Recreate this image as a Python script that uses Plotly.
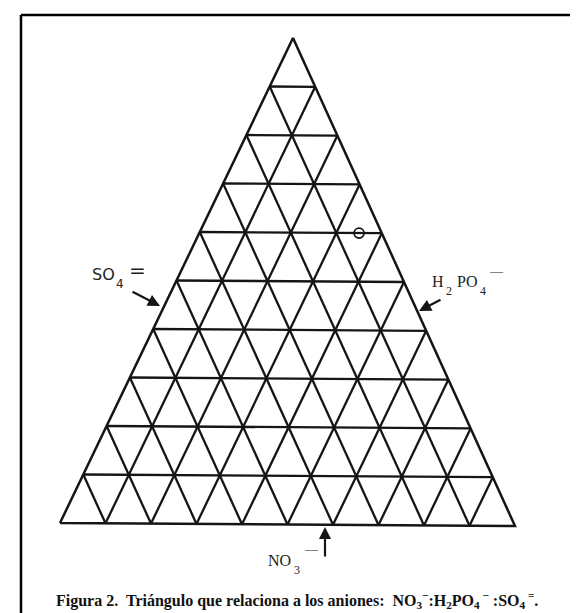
import plotly.graph_objects as go

# ternary grid levels (fractions) and the one plotted sample
grid_levels = [0.1, 0.2, 0.3, 0.4, 0.5, 0.6, 0.7, 0.8, 0.9]
sample_left = [0.05]   # weight towards lower-left corner
sample_apex = [0.60]   # weight towards top corner
sample_right = [0.35]  # weight towards lower-right corner

caption = ("<b>Figura 2.  Triángulo que relaciona a los aniones:  "
           "NO<sub>3</sub><sup>−</sup>:H<sub>2</sub>PO<sub>4</sub><sup> −</sup> :"
           "SO<sub>4</sub><sup> =</sup>.</b>")

# page geometry of the triangle corners (scan is slightly skewed)
LEFT = (52, 515)
APEX = (285, 30)
RIGHT = (507, 518)
INK = "#151515"


def to_xy(a, b, c):
    x = a * LEFT[0] + b * APEX[0] + c * RIGHT[0]
    y = a * LEFT[1] + b * APEX[1] + c * RIGHT[1]
    return x, y


def segments():
    xs, ys = [], []
    for v in grid_levels:
        for p, q in [((1 - v, v, 0), (0, v, 1 - v)),
                     ((v, 1 - v, 0), (v, 0, 1 - v)),
                     ((1 - v, 0, v), (0, 1 - v, v))]:
            x0, y0 = to_xy(*p)
            x1, y1 = to_xy(*q)
            xs += [x0, x1, None]
            ys += [y0, y1, None]
    return xs, ys


fig = go.Figure()

gx, gy = segments()
fig.add_trace(go.Scatter(x=gx, y=gy, mode="lines",
                         line=dict(color=INK, width=2.3), hoverinfo="skip"))

ox, oy = zip(*[to_xy(1, 0, 0), to_xy(0, 1, 0), to_xy(0, 0, 1), to_xy(1, 0, 0)])
fig.add_trace(go.Scatter(x=list(ox), y=list(oy), mode="lines",
                         line=dict(color=INK, width=2.5), hoverinfo="skip"))

px, py = zip(*[to_xy(a, b, c) for a, b, c in zip(sample_left, sample_apex, sample_right)])
fig.add_trace(go.Scatter(x=list(px), y=list(py), mode="markers",
                         marker=dict(symbol="circle-open", size=10, color=INK,
                                     line=dict(width=1.8))))


def label(x, y, text, size, family="Liberation Serif"):
    fig.add_annotation(x=x, y=y, text=text, showarrow=False, xref="x", yref="y",
                       xanchor="center", yanchor="middle",
                       font=dict(family=family, size=size, color="#222"))


def arrow(x0, y0, x1, y1):
    fig.add_annotation(x=x1, y=y1, ax=x0, ay=y0, xref="x", yref="y",
                       axref="x", ayref="y", text="", showarrow=True,
                       arrowhead=2, arrowsize=1.1, arrowwidth=2.2, arrowcolor=INK)


# SO4=
label(95, 266, "SO", 16, "DejaVu Sans")
label(112, 276, "4", 12, "DejaVu Sans")
label(129, 262, "=", 20, "DejaVu Sans")
arrow(123, 283, 152, 298)

# H2PO4-
label(430, 273, "H", 16)
label(441, 283, "2", 12)
label(459, 273, "PO", 16)
label(475, 283, "4", 12)
label(488, 262, "—", 13)
arrow(434, 291, 411, 303)

# NO3-
label(271, 552, "NO", 16)
label(289, 562, "3", 12)
label(303, 540, "—", 13)
arrow(317, 550, 317, 519)

fig.add_annotation(x=289, y=592, text=caption, showarrow=False, xref="x", yref="y",
                   xanchor="center", yanchor="middle",
                   font=dict(family="Liberation Serif", size=16, color="#111"))

# frame of the scanned page
for x0, y0, x1, y1 in [(13, 7, 13, 613), (13, 7, 577, 7), (577, 7, 577, 613)]:
    fig.add_shape(type="line", x0=x0, y0=y0, x1=x1, y1=y1, xref="x", yref="y",
                  line=dict(color="#000", width=2.5))

fig.update_xaxes(range=[0, 578], visible=False, fixedrange=True)
fig.update_yaxes(range=[613, 0], visible=False, fixedrange=True)
fig.update_layout(width=578, height=613, margin=dict(l=0, r=0, t=0, b=0),
                  showlegend=False, plot_bgcolor="white", paper_bgcolor="white")

fig.write_html("out.html")
